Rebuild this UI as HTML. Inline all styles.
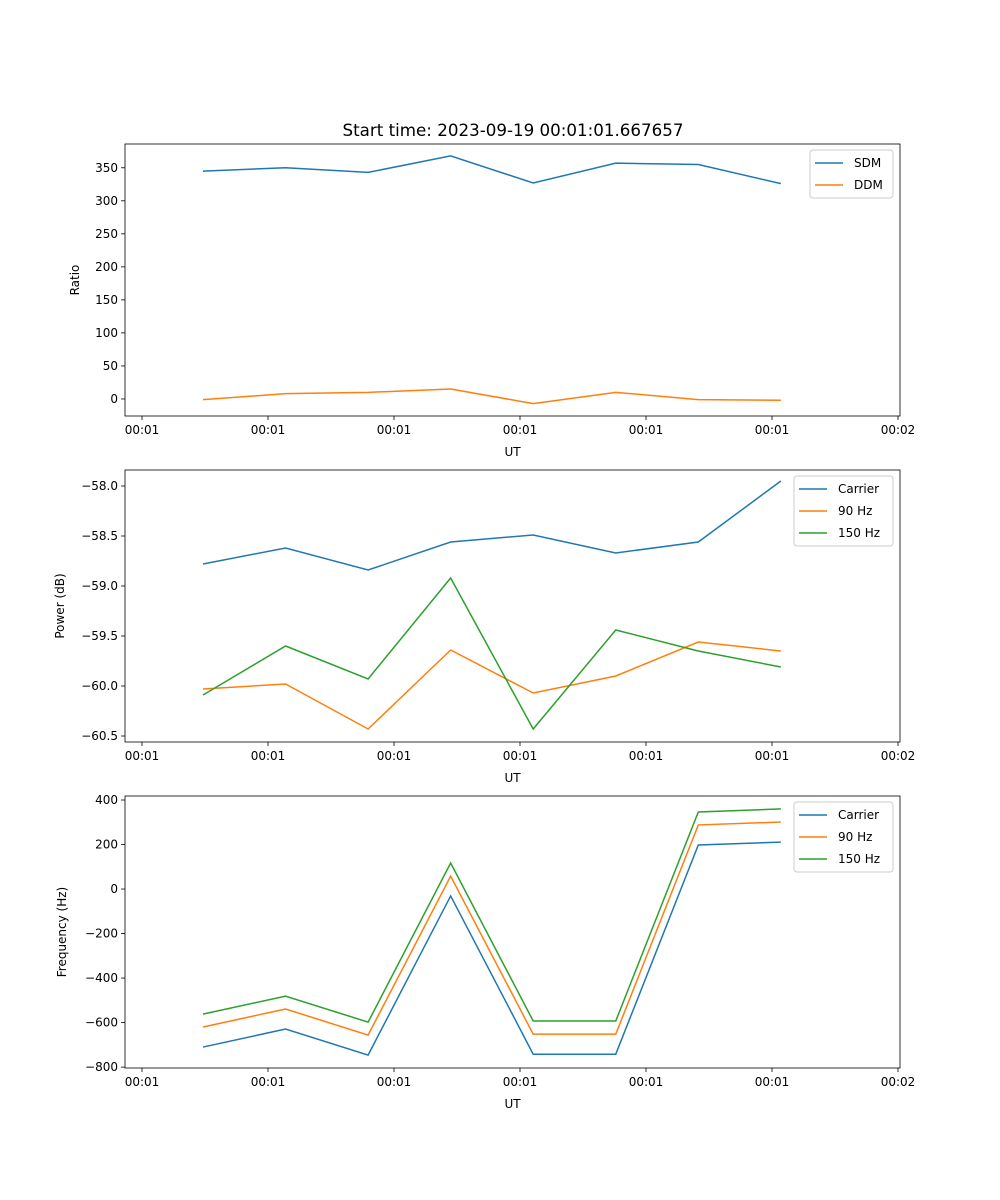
<!DOCTYPE html>
<html><head><meta charset="utf-8"><style>
body{margin:0;background:#fff}
svg{display:block;font-family:"DejaVu Sans","Liberation Sans",sans-serif}
</style></head><body>
<svg id="c" width="1000" height="1200" viewBox="0 0 1000 1200"></svg>
<script>
const xTickLabels=["00:01","00:01","00:01","00:01","00:01","00:01","00:02"];
const ratioSDM=[345,350,343,368,327,357,355,326];
const ratioDDM=[-1,8,10,15,-7,10,-1,-2];
const powCarrier=[-58.78,-58.62,-58.84,-58.56,-58.49,-58.67,-58.56,-57.95];
const pow90=[-60.03,-59.98,-60.43,-59.64,-60.07,-59.9,-59.56,-59.65];
const pow150=[-60.09,-59.6,-59.93,-58.92,-60.43,-59.44,-59.65,-59.81];
const freqCarrier=[-710,-629,-746,-31,-742,-742,198,211];
const freq90=[-620,-539,-656,58,-652,-652,288,301];
const freq150=[-562,-481,-598,117,-593,-593,346,360];
const ratioTicks=[0,50,100,150,200,250,300,350];
const powTicks=[-58.0,-58.5,-59.0,-59.5,-60.0,-60.5];
const freqTicks=[400,200,0,-200,-400,-600,-800];

const NS="http://www.w3.org/2000/svg";
const svg=document.getElementById('c');
function el(t,a,p){const e=document.createElementNS(NS,t);for(const k in a)e.setAttribute(k,a[k]);(p||svg).appendChild(e);return e;}
const L=125,R=900;
function xPos(i){return 203+i*82.55;}
function xTick(i){return 142+i*126;}
function panel(name,top,bot,ymin,ymax,ticks,fmt,ylabel,series,legend){
  const g=el('g',{});
  
  
  const y=v=>bot-(v-ymin)/(ymax-ymin)*(bot-top);
  ticks.forEach(t=>{
    const yy=y(t);
    el('line',{x1:L-4,x2:L,y1:yy,y2:yy,stroke:'#000','stroke-width':0.8},g);
    const tx=el('text',{x:L-7,y:yy+4,'text-anchor':'end','font-size':12},g);
    tx.textContent=fmt(t);
    
    
  });
  xTickLabels.forEach((s,i)=>{
    const xx=xTick(i);
    el('line',{x1:xx,x2:xx,y1:bot,y2:bot+4,stroke:'#000','stroke-width':0.8},g);
    const tx=el('text',{x:xx,y:bot+18,'text-anchor':'middle','font-size':12},g);
    tx.textContent=s;
    
    
  });
  const xl=el('text',{x:(L+R)/2,y:bot+40,'text-anchor':'middle','font-size':12},g);
  xl.textContent='UT';
  
  
  const yl=el('text',{x:0,y:0,'text-anchor':'middle','font-size':12,transform:`translate(${ylabel[1]},${(top+bot)/2}) rotate(-90)`},g);
  yl.textContent=ylabel[0];
  
  
  series.forEach(s=>{
    const p=el('polyline',{points:s.d.map((v,i)=>xPos(i)+','+y(v)).join(' '),fill:'none',stroke:s.c,'stroke-width':1.5},g);
    
    
  });
  const fr=el('rect',{x:L,y:top,width:R-L,height:bot-top,fill:'none',stroke:'#000','stroke-width':0.8},g);
  
  
  const lg=el('g',{},g);
  
  
  el('rect',{x:legend[0],y:top+6,width:893-legend[0],height:series.length*22+4,fill:'#fff',stroke:'#ccc',rx:3},lg);
  series.forEach((s,i)=>{
    const yy=top+19+i*22;
    el('line',{x1:legend[0]+5,x2:legend[0]+33,y1:yy,y2:yy,stroke:s.c,'stroke-width':1.5},lg);
    const t=el('text',{x:legend[0]+44,y:yy+4,'font-size':12},lg);
    t.textContent=s.n;
    
    
  });
}
const B='#1f77b4',O='#ff7f0e',G='#2ca02c';
const title=el('text',{x:513,y:136,'text-anchor':'middle','font-size':16.7});
title.textContent='Start time: 2023-09-19 00:01:01.667657';


panel('ratio-panel',144,416,-25.8,386,ratioTicks,v=>String(v),['Ratio',79],
  [{n:'SDM',d:ratioSDM,c:B},{n:'DDM',d:ratioDDM,c:O}],[810]);
panel('power-panel',470,742,-60.56,-57.84,powTicks,v=>(v<0?'\u2212':'')+Math.abs(v).toFixed(1),['Power (dB)',64],
  [{n:'Carrier',d:powCarrier,c:B},{n:'90 Hz',d:pow90,c:O},{n:'150 Hz',d:pow150,c:G}],[794]);
panel('frequency-panel',796,1068,-804,418,freqTicks,v=>(v<0?'\u2212':'')+Math.abs(v),['Frequency (Hz)',66],
  [{n:'Carrier',d:freqCarrier,c:B},{n:'90 Hz',d:freq90,c:O},{n:'150 Hz',d:freq150,c:G}],[794]);
</script>
</body></html>
